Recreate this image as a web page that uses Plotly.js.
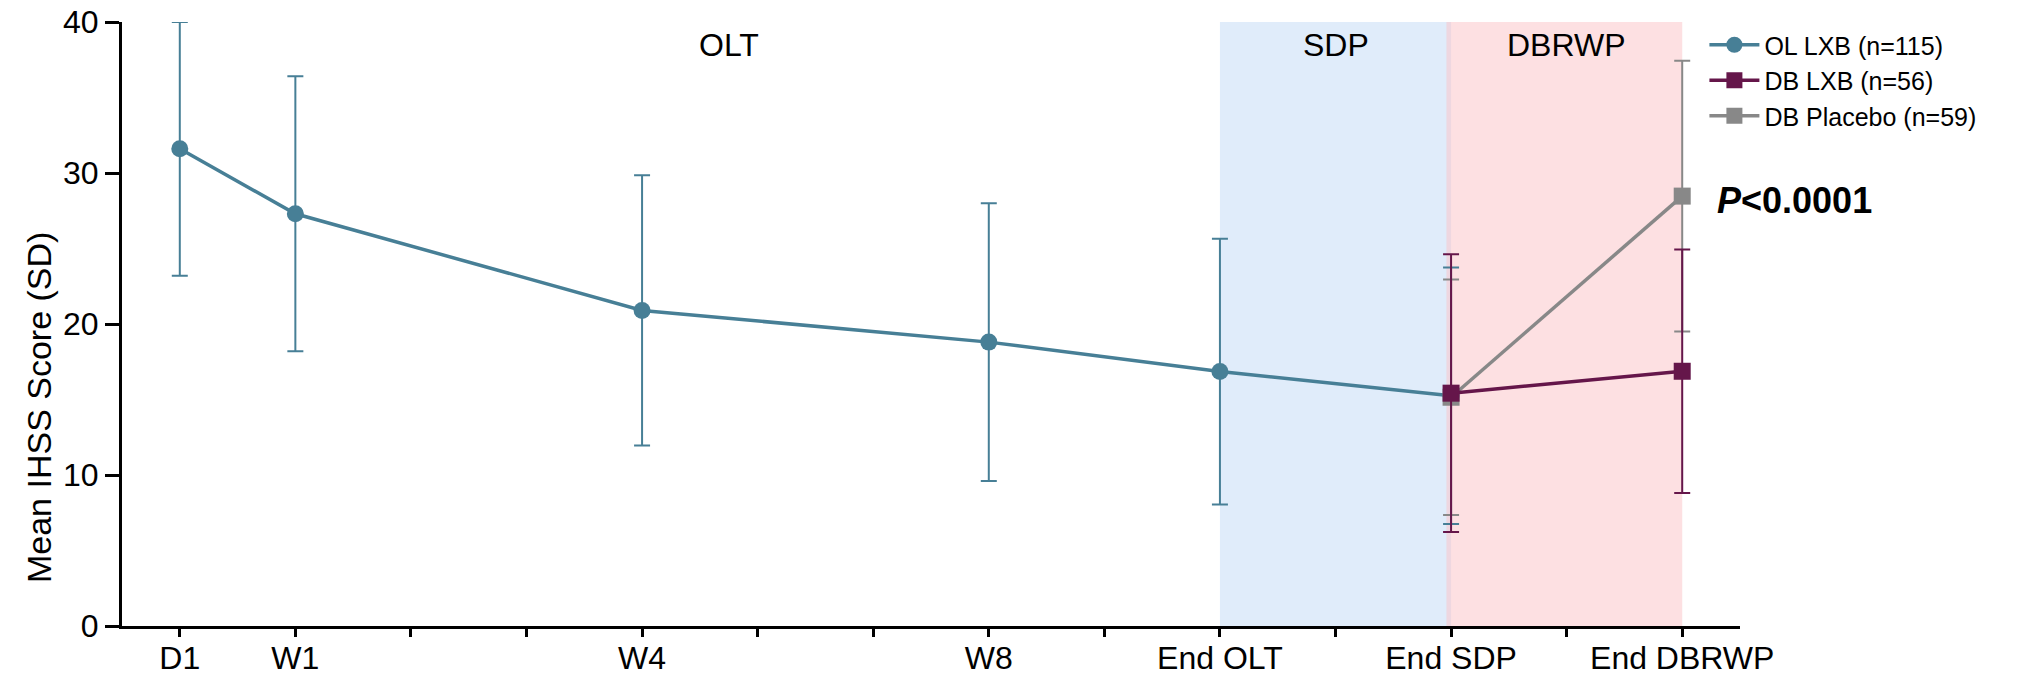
<!DOCTYPE html>
<html>
<head>
<meta charset="utf-8">
<script src="https://cdn.plot.ly/plotly-3.0.1.min.js"></script>
<style>html,body{margin:0;padding:0;background:#fff;}#chart{width:2028px;height:677px;}</style>
</head>
<body>
<div id="chart"></div>
<script>
// Timepoint axis: positions and labels
const tickPositions = [0, 1, 2, 3, 4, 5, 6, 7, 8, 9, 10, 11, 12, 13];
const tickLabels = ['D1', 'W1', '', '', 'W4', '', '', 'W8', '', 'End OLT', '', 'End SDP', '', 'End DBRWP'];

// OL LXB (n=115)
const olX = [0, 1, 4, 7, 9, 11];
const olMean = [31.6, 27.3, 20.9, 18.8, 16.85, 15.25];
const olSD = [8.4, 9.1, 8.95, 9.2, 8.8, 8.5];

// DB LXB (n=56)
const dbLxbX = [11, 13];
const dbLxbMean = [15.42, 16.87];
const dbLxbSD = [9.2, 8.07];

// DB Placebo (n=59)
const dbPboX = [11, 13];
const dbPboMean = [15.15, 28.47];
const dbPboSD = [7.8, 8.96];

// Study phases
const phaseNames = ['OLT', 'SDP', 'DBRWP'];
const phaseLabelX = [4.75, 10, 12];
const shadedStart = [9, 11];
const shadedEnd = [11, 13];

const yTitle = 'Mean IHSS Score (SD)';
const pText = '<b><i>P</i><0.0001</b>';

const teal = '#477f96';
const purple = '#65164a';
const gray = '#888888';
const FONT = 'Arial, "Liberation Sans", sans-serif';

function trace(x, y, sd, name, color, symbol, rank) {
  return {
    x: x, y: y, name: name, type: 'scatter', mode: 'lines+markers',
    line: {color: color, width: 3.5},
    marker: {color: color, symbol: symbol, size: 17},
    error_y: {type: 'data', array: sd, visible: true, color: color, thickness: 2, width: 8},
    legendrank: rank,
    cliponaxis: false
  };
}

const data = [
  trace(olX, olMean, olSD, 'OL LXB (n=115)', teal, 'circle', 1),
  trace(dbPboX, dbPboMean, dbPboSD, 'DB Placebo (n=59)', gray, 'square', 3),
  trace(dbLxbX, dbLxbMean, dbLxbSD, 'DB LXB (n=56)', purple, 'square', 2)
];

const shadeColors = ['rgba(193,217,245,0.5)', 'rgba(251,193,197,0.5)'];
const shapes = shadedStart.map((s, i) => ({
  type: 'rect', xref: 'x', yref: 'y', x0: s - (i === 1 ? 0.04 : 0), x1: shadedEnd[i], y0: 0, y1: 40,
  fillcolor: shadeColors[i], line: {width: 0}, layer: 'below'
}));

const annotations = phaseNames.map((n, i) => ({
  x: phaseLabelX[i], y: 38.5, xref: 'x', yref: 'y', text: n, showarrow: false,
  font: {family: FONT, size: 32, color: '#000'}, xanchor: 'center', yanchor: 'middle'
}));
annotations.push({
  x: 13.28, y: 28.2, xref: 'x', yref: 'y', text: pText, showarrow: false,
  font: {family: FONT, size: 36, color: '#000'}, xanchor: 'left', yanchor: 'middle'
});
annotations.push({
  x: -0.0513, y: 14.5, xref: 'paper', yref: 'y', text: yTitle, showarrow: false,
  textangle: -90, font: {family: FONT, size: 34, color: '#000'}, xanchor: 'center', yanchor: 'middle'
});

const layout = {
  width: 2028, height: 677,
  margin: {l: 122, r: 288, t: 22, b: 51},
  paper_bgcolor: '#fff', plot_bgcolor: '#fff',
  font: {family: FONT, color: '#000'},
  showlegend: true,
  legend: {
    x: 0.978, y: 1.0, xanchor: 'left', yanchor: 'top',
    font: {family: FONT, size: 25, color: '#000'},
    itemwidth: 50,
    bgcolor: 'rgba(0,0,0,0)', borderwidth: 0
  },
  xaxis: {
    range: [-0.5, 13.5], tickmode: 'array', tickvals: tickPositions, ticktext: tickLabels,
    showgrid: false, zeroline: false, showline: true, linecolor: '#000', linewidth: 3,
    ticks: 'outside', ticklen: 8, tickwidth: 3, tickcolor: '#000',
    ticklabelstandoff: -6,
    tickfont: {family: FONT, size: 32, color: '#000'}
  },
  yaxis: {
    range: [0, 40], tickmode: 'linear', tick0: 0, dtick: 10,
    showgrid: false, zeroline: false, showline: true, linecolor: '#000', linewidth: 3,
    ticks: 'outside', ticklen: 14, tickwidth: 3, tickcolor: '#000',
    tickfont: {family: FONT, size: 32, color: '#000'}
  },
  shapes: shapes,
  annotations: annotations
};

Plotly.newPlot('chart', data, layout, {displayModeBar: false, staticPlot: true});
</script>
</body>
</html>
